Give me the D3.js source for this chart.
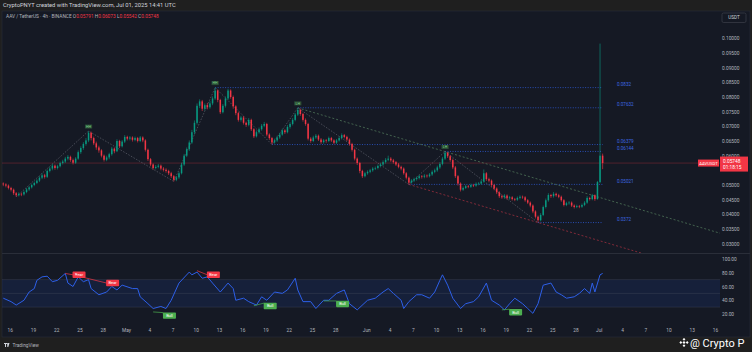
<!DOCTYPE html>
<html>
<head>
<meta charset="utf-8">
<script src="https://cdn.jsdelivr.net/npm/d3@7"></script>
<style>
  body { margin: 0; background: #1f1f1f; }
  svg { display: block; font-family: Roboto, "Noto Sans", sans-serif; }
</style>
</head>
<body>
<script>
// 8h candles from 2025-04-15 00:00 UTC, prices in units of 0.0001
const firstOpen = 505;
const closes = [
  502,498,490,484,472,465,470,468,476,485, 492,500,507,515,525,533,528,548,556,566,
  558,564,575,580,590,596,585,576,590,612, 626,640,652,678,660,642,628,618,600,586,
  594,605,624,615,650,632,648,664,658,662, 654,660,650,662,652,620,588,570,558,562,
  566,556,552,548,540,530,518,526,540,570, 600,622,645,680,712,770,785,760,772,765,
  778,795,822,790,748,770,795,822,800,768, 745,722,730,712,705,722,690,666,680,690,
  702,708,672,660,645,652,662,672,686,680, 698,708,722,740,756,742,722,708,658,650,
  662,668,655,646,652,650,660,652,644,652, 660,670,664,655,640,620,590,575,548,530,
  540,545,550,556,558,565,570,578,586,590, 584,578,570,562,556,540,525,508,515,520,
  524,530,528,532,530,536,545,550,560,572, 590,610,598,585,560,530,505,484,490,496,
  494,500,498,504,505,512,540,520,515,500, 488,475,462,458,464,455,458,452,450,456,
  460,458,448,440,430,410,392,380,398,425, 448,466,462,470,465,460,448,432,438,440,
  430,425,428,426,432,440,456,452,465,452, 510,600,575
];
const highs = [
  509,506,502,494,488,476,475,474,481,490, 497,505,512,520,530,540,538,553,562,572,
  570,569,580,586,596,602,600,590,595,618, 632,646,660,684,682,665,648,634,622,604,
  600,610,630,628,656,654,653,670,668,667, 666,665,664,667,666,656,624,592,574,568,
  572,570,561,557,552,545,534,531,546,576, 606,628,652,688,720,778,792,790,778,780,
  786,802,832,826,794,776,802,828,826,805, 772,750,736,735,716,728,726,694,686,696,
  708,715,712,676,664,658,668,678,692,690, 704,714,728,746,763,760,746,727,712,663,
  668,674,672,660,657,657,665,664,656,657, 666,676,674,668,659,644,624,594,579,552,
  545,550,555,561,563,570,576,584,592,600, 595,589,582,575,566,560,544,529,520,525,
  529,535,534,537,536,541,550,556,566,578, 596,614,612,602,590,565,534,509,495,501,
  500,505,504,509,510,518,553,544,525,519, 504,492,479,467,469,468,463,462,456,461,
  465,464,462,452,444,434,414,396,404,430, 454,472,470,476,474,470,464,452,443,445,
  444,434,433,432,437,445,462,460,470,468, 514,982,607
];
const lows = [
  496,492,485,478,466,460,461,462,464,472, 480,488,496,503,510,520,522,524,543,550,
  552,553,560,570,575,584,579,570,572,586, 606,620,634,646,652,636,620,610,594,580,
  581,588,600,608,612,626,628,643,652,652, 648,649,645,646,646,614,582,564,552,553,
  557,550,546,542,534,524,512,513,521,536, 565,595,616,640,672,706,762,752,754,758,
  760,772,790,782,742,744,764,790,794,760, 738,716,716,706,698,700,684,660,662,675,
  685,697,666,654,638,641,647,657,668,674, 676,692,703,717,735,736,716,702,652,644,
  646,657,650,640,641,644,646,647,639,640, 648,655,659,650,634,614,584,568,540,524,
  526,535,540,545,551,553,560,565,573,581, 579,573,565,557,550,535,519,502,505,510,
  515,519,522,523,525,526,531,540,545,555, 567,585,592,579,554,524,498,478,480,486,
  489,490,493,494,499,501,508,514,509,494, 482,469,456,453,453,450,450,447,445,446,
  451,453,443,435,424,404,386,372,376,394, 420,443,456,457,460,455,443,427,428,433,
  425,420,421,421,422,428,436,447,448,446, 450,506,554
];

// RSI (candle index, value)
const rsiIdx = [0,3,5,8,10,12,13,15,17,19,21,24,25,27,29,31,33,34,37,40,42,44,46,50,52,
  53,56,58,61,63,65,68,72,73,75,77,79,81,84,87,89,90,93,95,98,100,102,105,108,110,113,114,
  116,119,121,124,126,129,132,134,137,141,144,147,149,151,154,155,157,160,162,165,167,169,
  170,172,174,177,179,182,184,187,189,192,194,196,198,201,203,205,207,209,212,214,216,218,
  221,223,225,227,228,229,231,232];
const rsiVal = [43,38,33,40,52,57,69,74,75,67,69,79,65,60,74,67,70,57,48,52,60,55,62,57,57,
  45,35,28,31,28,40,65,81,77,81,72,74,65,52,65,57,40,43,38,33,45,40,52,50,55,72,55,
  38,38,28,40,40,50,55,35,26,40,43,52,57,50,40,28,38,48,48,43,52,69,
  77,62,43,28,35,38,45,65,40,33,26,35,43,35,28,21,35,62,65,52,48,43,
  45,50,57,50,65,52,77,79];

// divergence marks on the RSI
const divKind = ["Bear","Bear","Bull","Bear","Bull","Bull","Bull"];
const divFrom = [24, 27, 58, 75, 97, 124, 193];
const divTo = [27, 40, 62, 79, 101, 129, 196];
const divFromRsi = [79, 77, 23, 83, 32, 39, 26];
const divToRsi = [77, 65, 22, 77, 36, 39, 27];

// market structure pivots
const pivotIdx = [5, 33, 66, 82, 104, 114, 157, 171, 207];
const pivotType = ["L","H","L","H","L","H","L","H","L"];
const pivotLabel = ["", "HH", "", "HH", "", "LH", "", "LH", ""];

// horizontal levels
const levelVals = [0.0832, 0.07632, 0.06379, 0.06144, 0.05021, 0.0372];
const levelFrom = [82, 114, 104, 171, 157, 207];
const levelText = ["0.0832", "0.07632", "0.06379", "0.06144", "0.05021", "0.0372"];

// 0.055 sits under the last-price label, so it is not shown
const priceTicks = [0.03,0.035,0.04,0.045,0.05,0.06,0.065,0.07,0.075,0.08,0.085,0.09,0.095,0.1];
const rsiTicks = [20, 40, 60, 80, 100];
const timeTicks = ["2025-04-16","2025-04-19","2025-04-22","2025-04-25","2025-04-28","2025-05-01",
  "2025-05-04","2025-05-07","2025-05-10","2025-05-13","2025-05-16","2025-05-19","2025-05-22",
  "2025-05-25","2025-05-28","2025-06-01","2025-06-04","2025-06-07","2025-06-10","2025-06-13",
  "2025-06-16","2025-06-19","2025-06-22","2025-06-25","2025-06-28","2025-07-01","2025-07-04",
  "2025-07-07","2025-07-10","2025-07-13","2025-07-16"];

const lastPrice = 0.05748;

const W = 752, H = 352;
const up = "#089981", down = "#f23645";
const t0 = Date.UTC(2025, 3, 15);
const H8 = 8 * 3600e3;
const P = 1e-4;

const candles = closes.map((c, i) => ({
  t: new Date(t0 + i * H8 + H8 / 2),
  o: (i ? closes[i - 1] : firstOpen) * P,
  c: c * P, h: highs[i] * P, l: lows[i] * P
}));
const tOf = i => new Date(t0 + i * H8 + H8 / 2);

const x = d3.scaleUtc()
  .domain([new Date(Date.UTC(2025, 3, 16)), new Date(Date.UTC(2025, 6, 16))])
  .range([9.75, 715]);
const y = d3.scaleLinear().domain([0.03, 0.1]).range([243.7, 38.3]);
const yr = d3.scaleLinear().domain([20, 100]).range([314, 259]);

const svg = d3.select("body").append("svg").attr("width", W).attr("height", H);

// frame
svg.append("rect").attr("x", 2).attr("y", 11).attr("width", 748).attr("height", 326)
  .attr("fill", "#151924").attr("stroke", "#2a2e39").attr("stroke-width", 0.6);

svg.append("text").attr("x", 3).attr("y", 7.3).attr("font-size", 5.8).attr("fill", "#d1d4dc")
  .text("CryptoPNYT created with TradingView.com, Jul 01, 2025 14:41 UTC");

const defs = svg.append("defs");
defs.append("clipPath").attr("id", "main").append("rect")
  .attr("x", 2).attr("y", 11).attr("width", 718).attr("height", 242);
defs.append("clipPath").attr("id", "osc").append("rect")
  .attr("x", 2).attr("y", 254).attr("width", 718).attr("height", 70);

// pane separator
svg.append("line").attr("x1", 2).attr("x2", 750).attr("y1", 253.5).attr("y2", 253.5)
  .attr("stroke", "#2a2e39").attr("stroke-width", 1);

const main = svg.append("g").attr("clip-path", "url(#main)");

// last price line
main.append("line").attr("x1", 2).attr("x2", 720).attr("y1", y(lastPrice)).attr("y2", y(lastPrice))
  .attr("stroke", "#f23645").attr("stroke-opacity", 0.35).attr("stroke-width", 0.8);

// levels
levelVals.forEach((v, k) => {
  main.append("line")
    .attr("x1", x(tOf(levelFrom[k]))).attr("x2", x(tOf(232)))
    .attr("y1", y(v)).attr("y2", y(v))
    .attr("stroke", "#2f5bd6").attr("stroke-width", 0.8).attr("stroke-dasharray", "1,1.5");
  main.append("text").attr("x", 617).attr("y", y(v) - 1.6)
    .attr("font-size", 4.6).attr("fill", "#3d68e0").text(levelText[k]);
});

// zigzag structure
const pivots = pivotIdx.map((i, k) => ({
  i, p: pivotType[k] === "H" ? highs[i] * P : lows[i] * P, lab: pivotLabel[k]
}));
main.append("path")
  .attr("d", d3.line().x(d => x(tOf(d.i))).y(d => y(d.p))(pivots))
  .attr("fill", "none").attr("stroke", "#5d606b").attr("stroke-width", 0.7)
  .attr("stroke-dasharray", "1.5,1.5");

// trend lines through two pivots, extended right
function ray(i1, p1, i2, p2, color) {
  const x1 = x(tOf(i1)), y1 = y(p1), x2 = x(tOf(i2)), y2 = y(p2);
  const xe = 720, ye = y1 + (y2 - y1) / (x2 - x1) * (xe - x1);
  main.append("line").attr("x1", x1).attr("y1", y1).attr("x2", xe).attr("y2", ye)
    .attr("stroke", color).attr("stroke-width", 0.8).attr("stroke-dasharray", "2,2");
}
ray(114, highs[114] * P, 171, highs[171] * P, "#4e7358");
ray(157, lows[157] * P, 207, lows[207] * P, "#9c2e3e");

// candles
const cg = main.append("g");
const bw = 1.5;
cg.selectAll("line").data(candles).enter().append("line")
  .attr("x1", d => x(d.t)).attr("x2", d => x(d.t))
  .attr("y1", d => y(d.h)).attr("y2", d => y(d.l))
  .attr("stroke", d => d.c >= d.o ? up : down).attr("stroke-width", 0.6);
cg.selectAll("rect").data(candles).enter().append("rect")
  .attr("x", d => x(d.t) - bw / 2).attr("width", bw)
  .attr("y", d => y(Math.max(d.o, d.c)))
  .attr("height", d => Math.max(0.6, Math.abs(y(d.o) - y(d.c))))
  .attr("fill", d => d.c >= d.o ? up : down);

// HH / LH tags
pivots.filter(d => d.lab).forEach(d => {
  const cx = x(tOf(d.i)), cy = y(d.p) - 4.5;
  main.append("rect").attr("x", cx - 3.6).attr("y", cy - 2).attr("width", 7.2).attr("height", 4)
    .attr("fill", "#2e5a3a").attr("opacity", 0.8);
  main.append("text").attr("x", cx).attr("y", cy + 1.3).attr("text-anchor", "middle")
    .attr("font-size", 3.6).attr("fill", "#7fd08a").text(d.lab);
});

// price axis
const pAxis = svg.append("g").attr("transform", "translate(716,0)")
  .call(d3.axisRight(y).tickValues(priceTicks).tickSize(0).tickPadding(6)
    .tickFormat(d3.format(".5f")));
pAxis.select(".domain").remove();
pAxis.selectAll("text").attr("font-size", 4.8).attr("fill", "#b2b5be").attr("font-family", "Roboto");

// USDT box
svg.append("rect").attr("x", 722).attr("y", 13).attr("width", 24).attr("height", 9.5).attr("rx", 1.5)
  .attr("fill", "#151924").attr("stroke", "#434651").attr("stroke-width", 0.6);
svg.append("text").attr("x", 734).attr("y", 19.4).attr("text-anchor", "middle")
  .attr("font-size", 4.6).attr("fill", "#d1d4dc").text("USDT");

// last price labels
svg.append("rect").attr("x", 698).attr("y", y(lastPrice) - 3.5).attr("width", 21).attr("height", 7)
  .attr("fill", "#f23645");
svg.append("text").attr("x", 708.5).attr("y", y(lastPrice) + 1.6).attr("text-anchor", "middle")
  .attr("font-size", 4.2).attr("fill", "#fff").text("AAVUSDT");
svg.append("rect").attr("x", 720).attr("y", y(lastPrice) - 6.5).attr("width", 28).attr("height", 15)
  .attr("fill", "#f23645");
svg.append("text").attr("x", 723).attr("y", y(lastPrice) - 0.4)
  .attr("font-size", 4.8).attr("fill", "#fff").text(d3.format(".5f")(lastPrice));
svg.append("text").attr("x", 723).attr("y", y(lastPrice) + 6)
  .attr("font-size", 4.8).attr("fill", "#fff").text("01:18:15");

// symbol legend
const leg = svg.append("text").attr("x", 6).attr("y", 18).attr("font-size", 4.8).attr("fill", "#b2b5be");
leg.append("tspan").text("AAV / TetherUS · 4h · BINANCE  ");
[["O", "0.05791"], ["H", "0.06073"], ["L", "0.05542"], ["C", "0.05748"]].forEach(([k, v]) => {
  leg.append("tspan").attr("fill", "#b2b5be").text(" " + k);
  leg.append("tspan").attr("fill", "#f23645").text(v);
});

// RSI pane
const osc = svg.append("g").attr("clip-path", "url(#osc)");
osc.append("rect").attr("x", 2).attr("width", 718)
  .attr("y", yr(70)).attr("height", yr(30) - yr(70))
  .attr("fill", "#2962ff").attr("opacity", 0.1);
[70, 50, 30].forEach(v => {
  osc.append("line").attr("x1", 2).attr("x2", 720).attr("y1", yr(v)).attr("y2", yr(v))
    .attr("stroke", "#787b86").attr("stroke-opacity", 0.3).attr("stroke-width", 0.6);
});
const rsiPts = rsiIdx.map((i, k) => [x(tOf(i)), yr(rsiVal[k])]);
osc.append("path").attr("d", d3.line()(rsiPts))
  .attr("fill", "none").attr("stroke", "#2d5fe8").attr("stroke-width", 1);

divKind.forEach((kind, k) => {
  const col = kind === "Bear" ? "#f23645" : "#4caf50";
  const x2 = x(tOf(divTo[k])), y2 = yr(divToRsi[k]);
  osc.append("line").attr("x1", x(tOf(divFrom[k]))).attr("y1", yr(divFromRsi[k]))
    .attr("x2", x2).attr("y2", y2).attr("stroke", col).attr("stroke-width", 0.7);
  const cx = x2 + 6, cy = y2 + (kind === "Bear" ? 0 : 3);
  osc.append("rect").attr("x", cx - 6.5).attr("y", cy - 3.2).attr("width", 13).attr("height", 6.4)
    .attr("rx", 0.8).attr("fill", col);
  osc.append("text").attr("x", cx).attr("y", cy + 1.4).attr("text-anchor", "middle")
    .attr("font-size", 4).attr("fill", "#fff").text(kind);
});

const rAxis = svg.append("g").attr("transform", "translate(716,0)")
  .call(d3.axisRight(yr).tickValues(rsiTicks).tickSize(0).tickPadding(6).tickFormat(d3.format(".2f")));
rAxis.select(".domain").remove();
rAxis.selectAll("text").attr("font-size", 4.8).attr("fill", "#b2b5be").attr("font-family", "Roboto");

// time axis
const tAxis = svg.append("g").attr("transform", "translate(0,328.5)")
  .call(d3.axisBottom(x).tickValues(timeTicks.map(s => new Date(s + "T00:00:00Z")))
    .tickSize(0).tickPadding(0)
    .tickFormat(d => d.getUTCDate() === 1 ? d3.utcFormat("%b")(d) : d3.utcFormat("%-d")(d)));
tAxis.select(".domain").remove();
tAxis.selectAll("text").attr("font-size", 4.8).attr("fill", "#b2b5be").attr("font-family", "Roboto");

// footer
const tv = svg.append("g").attr("transform", "translate(4,343)");
tv.append("path").attr("d", "M0,0h3v1h-1v3h-1v-3h-1z M3.2,0h2.3l-1.2,4h-1z").attr("fill", "#d1d4dc");
svg.append("text").attr("x", 12.5).attr("y", 346.8).attr("font-size", 4.8).attr("fill", "#b2b5be")
  .text("TradingView");

const logo = svg.append("g").attr("transform", "translate(684,342.5)").attr("fill", "#fff");
[[0, -3.2], [-3.2, 0], [3.2, 0], [0, 3.2]].forEach(([dx, dy]) => {
  logo.append("rect").attr("x", dx - 1).attr("y", dy - 1).attr("width", 2).attr("height", 2)
    .attr("transform", `rotate(45 ${dx} ${dy})`);
});
logo.append("rect").attr("x", -1.1).attr("y", -1.1).attr("width", 2.2).attr("height", 2.2)
  .attr("transform", "rotate(45)");
svg.append("text").attr("x", 690).attr("y", 346.5).attr("font-size", 11).attr("fill", "#fff")
  .text("@ Crypto P");
</script>
</body>
</html>
